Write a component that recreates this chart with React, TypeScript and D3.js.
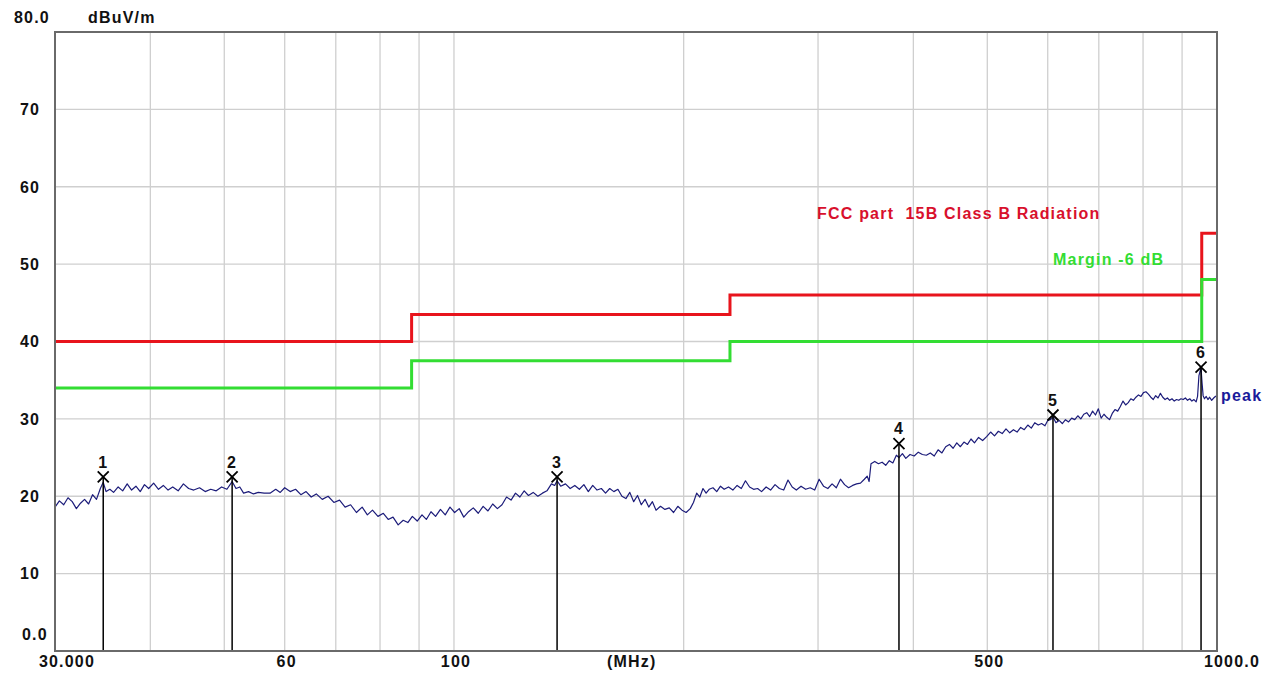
import React from "react";
import * as d3 from "d3";

// axis ranges
const freqDomain = [30, 1000];
const levelDomain = [0, 80];
const levelTicks = [10, 20, 30, 40, 50, 60, 70];
const gridFreqs = [40, 50, 60, 70, 80, 90, 100, 200, 300, 400, 500, 600, 700, 800, 900];
const freqTickLabels = [
  { f: 60, label: "60" },
  { f: 100, label: "100" },
  { f: 500, label: "500" },
];

// FCC part 15B class B limit (step after) and -6 dB margin
const limitFreq = [30, 88, 230, 955, 1000];
const limitLevel = [40, 43.5, 46, 54, 54];
const marginLevel = [34, 37.5, 40, 48, 48];

// markers
const markerFreq = [34.7, 51.2, 136.5, 383, 609.6, 953];
const markerLevel = [22.5, 22.5, 22.5, 26.8, 30.5, 36.7];

// peak trace: [MHz, dBuV/m]
const peakTrace: [number, number][] = [
  [30.0, 18.6], [30.4, 19.4], [30.8, 18.9], [31.2, 19.8], [31.6, 19.3], [32.0, 18.4], [32.4, 19.1],
  [32.8, 19.6], [33.2, 19.0], [33.6, 20.2], [34.0, 19.6], [34.4, 21.0], [34.7, 21.8], [35.0, 20.6],
  [35.4, 20.9], [35.8, 20.5], [36.3, 21.2], [36.8, 20.7], [37.3, 21.6], [37.8, 20.8], [38.3, 21.3],
  [38.8, 20.6], [39.3, 21.5], [39.8, 21.0], [40.4, 21.7], [41.0, 20.9], [41.6, 21.4], [42.2, 20.8],
  [42.8, 21.2], [43.5, 20.7], [44.2, 21.6], [44.9, 21.0], [45.6, 20.8], [46.4, 21.1], [47.2, 20.6],
  [48.0, 20.9], [48.8, 20.7], [49.6, 21.2], [50.4, 20.9], [51.2, 21.9], [51.8, 21.0], [52.4, 21.2],
  [53.0, 20.4], [53.8, 20.6], [54.6, 20.3], [55.4, 20.5], [56.4, 20.4], [57.4, 20.4], [58.4, 20.9],
  [59.2, 20.5], [60.0, 21.1], [61.0, 20.6], [62.0, 20.9], [63.0, 20.2], [64.0, 20.6], [65.0, 19.9],
  [66.0, 20.3], [67.2, 19.6], [68.4, 20.0], [69.6, 19.2], [70.8, 19.5], [72.0, 18.6], [73.2, 18.9],
  [74.5, 17.9], [75.8, 18.6], [77.0, 17.6], [78.2, 18.2], [79.5, 17.4], [80.8, 17.8], [82.0, 17.0],
  [83.2, 17.3], [84.5, 16.3], [85.8, 16.9], [87.0, 16.6], [88.2, 17.4], [89.5, 16.8], [90.8, 17.6],
  [92.0, 17.0], [93.3, 18.0], [94.6, 17.4], [96.0, 18.3], [97.4, 17.6], [98.8, 18.6], [100.2, 17.9],
  [101.6, 18.4], [103.0, 17.3], [104.5, 18.0], [106.0, 18.5], [107.6, 17.8], [109.2, 18.7],
  [110.8, 18.1], [112.4, 19.0], [114.0, 18.4], [115.6, 18.9], [117.2, 19.9], [118.8, 19.5],
  [120.4, 20.4], [122.0, 19.9], [123.6, 20.7], [125.2, 20.1], [127.0, 20.5], [128.8, 20.0],
  [130.6, 20.4], [132.4, 20.7], [134.2, 21.6], [135.5, 21.4], [136.5, 22.0], [138.0, 21.3],
  [140.0, 21.6], [142.0, 21.0], [144.0, 21.4], [146.0, 20.9], [148.0, 21.5], [150.0, 20.6],
  [152.0, 21.4], [154.0, 20.8], [156.0, 21.0], [158.0, 20.4], [160.0, 21.0], [162.0, 20.6],
  [164.0, 20.9], [166.0, 20.0], [168.0, 19.7], [170.0, 20.5], [172.0, 19.3], [174.0, 20.1],
  [176.0, 18.9], [178.0, 19.6], [180.0, 18.6], [182.0, 19.3], [184.0, 18.2], [186.5, 18.7],
  [189.0, 18.3], [191.5, 18.5], [194.0, 17.9], [196.5, 18.7], [199.0, 18.2], [201.5, 17.9],
  [204.0, 18.4], [206.0, 19.2], [208.0, 20.4], [210.0, 19.9], [212.0, 21.0], [214.0, 20.4],
  [216.0, 20.9], [218.5, 21.1], [221.0, 20.6], [223.5, 21.3], [226.0, 20.9], [229.0, 21.2],
  [232.0, 20.8], [235.0, 21.4], [238.0, 21.0], [241.0, 22.0], [244.0, 21.2], [247.0, 20.9],
  [250.0, 21.0], [253.0, 20.6], [256.5, 21.2], [260.0, 20.8], [263.5, 21.5], [267.0, 21.0],
  [270.5, 20.8], [274.0, 22.1], [277.5, 21.2], [281.0, 20.8], [285.0, 21.3], [289.0, 20.9],
  [293.0, 21.1], [297.0, 20.8], [301.0, 22.2], [305.0, 21.3], [309.0, 21.0], [313.0, 21.6],
  [317.0, 21.1], [321.0, 22.2], [325.0, 21.5], [329.0, 21.1], [333.0, 21.4], [337.0, 21.6],
  [341.0, 21.7], [345.0, 22.2], [348.0, 22.6], [350.0, 21.9], [352.0, 24.2], [356.0, 24.5],
  [360.0, 24.2], [364.0, 24.4], [368.0, 24.0], [372.0, 24.6], [376.0, 24.3], [380.0, 25.3],
  [383.0, 25.0], [387.0, 25.5], [391.0, 24.9], [396.0, 25.4], [401.0, 25.2], [406.0, 25.7],
  [411.0, 25.4], [416.0, 25.3], [421.0, 25.6], [426.0, 25.2], [431.0, 26.0], [436.0, 25.6],
  [441.0, 26.4], [446.0, 26.7], [451.0, 26.2], [456.0, 26.9], [461.0, 26.4], [466.0, 27.0],
  [471.0, 26.7], [476.0, 27.4], [481.0, 26.9], [487.0, 27.6], [493.0, 27.2], [499.0, 27.7],
  [505.0, 28.3], [511.0, 27.8], [517.0, 28.4], [523.0, 28.1], [529.0, 28.7], [535.0, 28.2],
  [541.0, 28.6], [547.0, 28.3], [553.0, 28.9], [559.0, 28.6], [565.0, 29.2], [571.0, 28.8],
  [577.0, 29.5], [583.0, 29.2], [589.0, 29.4], [595.0, 29.1], [600.0, 29.8], [605.0, 29.9],
  [610.0, 30.2], [615.0, 29.5], [621.0, 29.8], [627.0, 29.4], [633.0, 29.9], [639.0, 29.6],
  [645.0, 30.1], [651.0, 29.9], [657.0, 30.4], [663.0, 30.0], [669.0, 30.6], [675.0, 30.8],
  [681.0, 30.3], [687.0, 31.0], [693.0, 30.5], [699.0, 31.3], [705.0, 30.1], [711.0, 30.6],
  [717.0, 30.2], [723.0, 29.9], [729.0, 30.7], [735.0, 31.2], [741.0, 31.0], [747.0, 31.6],
  [753.0, 32.3], [759.0, 31.8], [765.0, 32.1], [771.0, 32.6], [777.0, 32.4], [783.0, 32.8],
  [789.0, 33.1], [795.0, 32.9], [801.0, 33.4], [807.0, 33.5], [813.0, 33.2], [819.0, 32.8],
  [825.0, 32.5], [831.0, 33.0], [837.0, 32.7], [843.0, 33.3], [849.0, 32.8], [855.0, 32.5],
  [861.0, 32.7], [867.0, 32.4], [873.0, 32.6], [879.0, 32.3], [885.0, 32.5], [891.0, 32.4],
  [897.0, 32.6], [903.0, 32.5], [909.0, 32.7], [915.0, 32.4], [921.0, 32.6], [927.0, 32.3],
  [933.0, 32.5], [939.0, 32.2], [943.0, 32.9], [947.0, 35.6], [951.0, 36.3], [953.0, 36.5],
  [956.0, 34.6], [959.0, 33.0], [963.0, 32.6], [968.0, 32.9], [973.0, 32.5], [978.0, 32.8],
  [984.0, 32.4], [990.0, 32.7], [995.0, 32.9], [1000.0, 33.0],
];

const W = 1273;
const H = 675;
const margin = { top: 32, right: 56, bottom: 24, left: 55 };
const FONT = "'Liberation Sans', Arial, sans-serif";

export default function App() {
  const x = d3.scaleLog().domain(freqDomain).range([margin.left, W - margin.right]);
  const y = d3.scaleLinear().domain(levelDomain).range([H - margin.bottom, margin.top]);

  const traceLine = d3
    .line<[number, number]>()
    .x(d => x(d[0]))
    .y(d => y(d[1]));

  const stepLine = d3
    .line<number>()
    .x((_, i) => x(limitFreq[i]))
    .y(d => y(d))
    .curve(d3.curveStepAfter);

  const x0 = x.range()[0];
  const x1 = x.range()[1];
  const yTop = y.range()[1];
  const yBot = y.range()[0];

  const textStyle = {
    fontFamily: FONT,
    fontWeight: 700,
    fontSize: 16,
    letterSpacing: 1.2,
  };

  return (
    <svg width={W} height={H} style={{ position: "absolute", left: 0, top: 0, background: "#fff" }}>
      {/* grid */}
      <g stroke="#cfcfcf" strokeWidth={1.3}>
        {gridFreqs.map(f => (
          <line key={"v" + f} x1={x(f)} x2={x(f)} y1={yTop} y2={yBot} />
        ))}
        {levelTicks.map(v => (
          <line key={"h" + v} x1={x0} x2={x1} y1={y(v)} y2={y(v)} />
        ))}
      </g>

      {/* y tick labels */}
      <g style={textStyle} fill="#111">
        {levelTicks.map(v => (
          <text key={v} x={20} y={y(v)} dy="0.36em">
            {v}
          </text>
        ))}
        <text x={14} y={y(80) - 15} dy="0.36em">80.0</text>
        <text x={22} y={y(0) - 17} dy="0.36em">0.0</text>
        <text x={88} y={y(80) - 15} dy="0.36em">dBuV/m</text>
      </g>

      {/* x tick labels */}
      <g style={textStyle} fill="#111">
        <text x={x(30) + 12} y={yBot + 10} dy="0.36em" textAnchor="middle">30.000</text>
        {freqTickLabels.map(t => (
          <text key={t.f} x={x(t.f) + 2} y={yBot + 10} dy="0.36em" textAnchor="middle">
            {t.label}
          </text>
        ))}
        <text x={x(171)} y={yBot + 10} dy="0.36em" textAnchor="middle">(MHz)</text>
        <text x={x(1000) + 15} y={yBot + 10} dy="0.36em" textAnchor="middle">1000.0</text>
      </g>

      {/* limit lines */}
      <path d={stepLine(limitLevel) || ""} fill="none" stroke="#e8141c" strokeWidth={3} />
      <path d={stepLine(marginLevel) || ""} fill="none" stroke="#33dd33" strokeWidth={3} />

      {/* peak trace */}
      <path d={traceLine(peakTrace) || ""} fill="none" stroke="#1c1c7a" strokeWidth={1.2} strokeLinejoin="round" />

      {/* markers */}
      <g>
        {markerFreq.map((f, i) => {
          const mx = x(f);
          const my = y(markerLevel[i]);
          const s = 5.5;
          return (
            <g key={i}>
              <line x1={mx} x2={mx} y1={my} y2={yBot} stroke="#000" strokeWidth={1.5} />
              <path
                d={`M${mx - s},${my - s}L${mx + s},${my + s}M${mx + s},${my - s}L${mx - s},${my + s}`}
                stroke="#000"
                strokeWidth={1.8}
              />
              <text x={mx} y={my - 15} dy="0.36em" textAnchor="middle" style={textStyle} fill="#111">
                {i + 1}
              </text>
            </g>
          );
        })}
      </g>

      {/* legend texts */}
      <g style={textStyle}>
        <text x={817} y={213} dy="0.36em" fill="#d8102c">{"FCC part \u00a015B Class B Radiation"}</text>
        <text x={1053} y={259} dy="0.36em" fill="#33dd33">Margin -6 dB</text>
        <text x={1221} y={395} dy="0.36em" fill="#1a1a9a">peak</text>
      </g>

      {/* frame */}
      <rect x={x0} y={yTop} width={x1 - x0} height={yBot - yTop} fill="none" stroke="#6a6a6a" strokeWidth={2} />
    </svg>
  );
}
